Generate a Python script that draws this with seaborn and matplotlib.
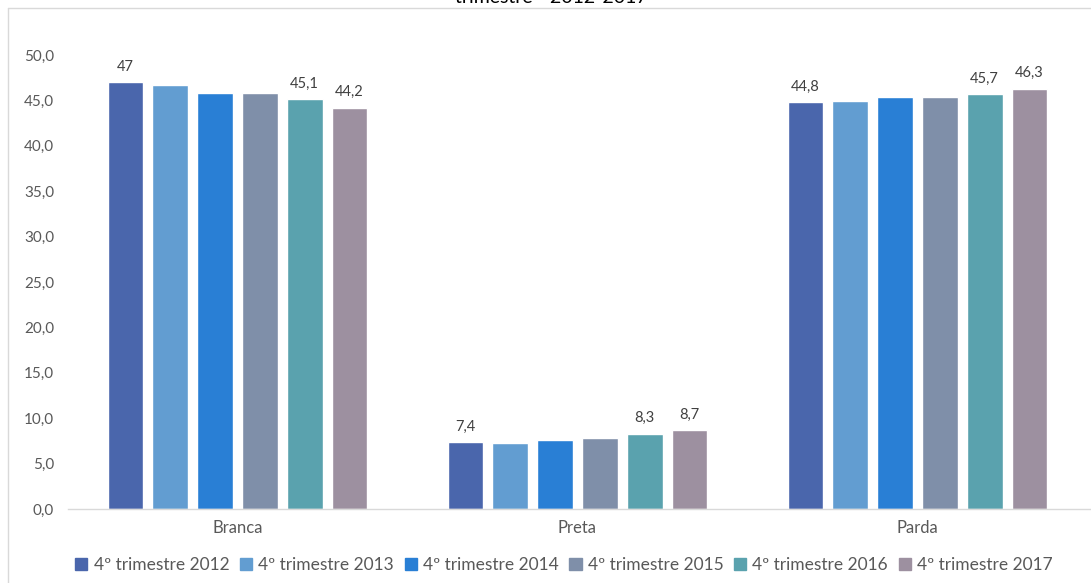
import matplotlib
matplotlib.use("Agg")
import matplotlib.pyplot as plt
from matplotlib.lines import Line2D
from matplotlib.ticker import FuncFormatter, MultipleLocator
import seaborn as sns
import pandas as pd

categories = ["Branca", "Preta", "Parda"]
series_names = ["4º trimestre 2012", "4º trimestre 2013", "4º trimestre 2014",
                "4º trimestre 2015", "4º trimestre 2016", "4º trimestre 2017"]
values_2012 = [47.0, 7.4, 44.8]
values_2013 = [46.7, 7.3, 44.9]
values_2014 = [45.8, 7.6, 45.4]
values_2015 = [45.8, 7.8, 45.4]
values_2016 = [45.1, 8.3, 45.7]
values_2017 = [44.2, 8.7, 46.3]
labeled_series = ["4º trimestre 2012", "4º trimestre 2016", "4º trimestre 2017"]
colors = ["#4A66AC", "#629DD1", "#297FD5", "#7F8FA9", "#5AA2AE", "#9D90A0"]
title_text = "trimestre - 2012-2017"

all_values = [values_2012, values_2013, values_2014, values_2015, values_2016, values_2017]
rows = []
for s, vals in zip(series_names, all_values):
    for c, v in zip(categories, vals):
        rows.append({"Cor": c, "Serie": s, "Valor": v})
df = pd.DataFrame(rows)

sns.set_theme(style="white")
plt.rcParams["font.family"] = ["Lato", "DejaVu Sans"]

fig = plt.figure(figsize=(10.91, 5.83), dpi=100)
ax = fig.add_axes([68 / 1091, 74 / 583, 1 - 68 / 1091, (509 - 55) / 583])

sns.barplot(data=df, x="Cor", y="Valor", hue="Serie", order=categories,
            hue_order=series_names, palette=colors, width=0.79, gap=0.2,
            saturation=1, ax=ax, legend=True)

ax.set_xlim(-0.4985, 2.5103)
ax.set_ylim(0, 50)
ax.yaxis.set_major_locator(MultipleLocator(5))
ax.yaxis.set_major_formatter(FuncFormatter(lambda v, p: f"{v:.1f}".replace(".", ",")))
ax.set_xlabel("")
ax.set_ylabel("")
for sp in ["left", "right", "top"]:
    ax.spines[sp].set_visible(False)
ax.spines["bottom"].set_color("#D9D9D9")
ax.spines["bottom"].set_linewidth(1)
ax.tick_params(axis="y", colors="#595959", labelsize=11, length=0, pad=10)
ax.tick_params(axis="x", colors="#595959", labelsize=12, length=0, pad=8)

for cont, name in zip(ax.containers, series_names):
    if name in labeled_series:
        labels = [f"{b.get_height():g}".replace(".", ",") for b in cont]
    else:
        labels = ["" for b in cont]
    ax.bar_label(cont, labels=labels, padding=6, fontsize=10.5, color="#404040")

ax.get_legend().remove()
handles = [plt.Rectangle((0, 0), 1, 1, color=c) for c in colors]
fig.legend(handles, series_names, loc="center", bbox_to_anchor=(0.517, 1 - 565 / 583),
           ncol=6, frameon=False, fontsize=12.5, handlelength=0.7, handleheight=0.7,
           handletextpad=0.35, columnspacing=0.62, labelcolor="#595959")

fig.text(0.505, 1 - 3 / 583, title_text, ha="center", va="baseline", fontsize=14, color="#000000")

fig.add_artist(Line2D([8 / 1091, 8 / 1091], [0, 1 - 8 / 583], transform=fig.transFigure,
                      color="#D9D9D9", lw=1))
fig.add_artist(Line2D([8 / 1091, 1], [1 - 8 / 583, 1 - 8 / 583], transform=fig.transFigure,
                      color="#D9D9D9", lw=1))

fig.savefig("out.png", dpi=100)
